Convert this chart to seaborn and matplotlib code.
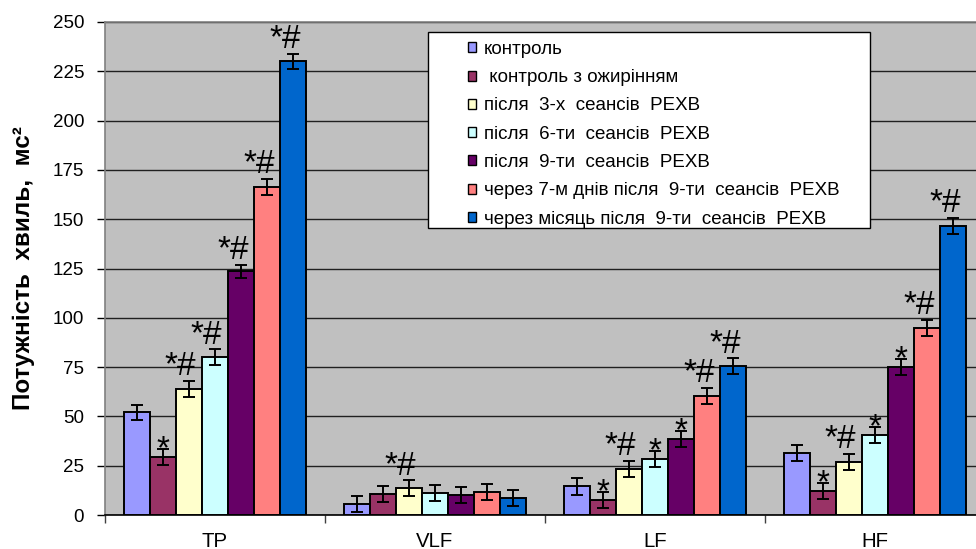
import matplotlib
matplotlib.use("Agg")
import matplotlib.pyplot as plt
import seaborn as sns
import pandas as pd
from matplotlib.patches import Patch, Rectangle

# ---- data ----
categories = ["TP", "VLF", "LF", "HF"]
groups = [
    "контроль",
    " контроль з ожирінням",
    "після  3-х  сеансів  РЕХВ",
    "після  6-ти  сеансів  РЕХВ",
    "після  9-ти  сеансів  РЕХВ",
    "через 7-м днів після  9-ти  сеансів  РЕХВ",
    "через місяць після  9-ти  сеансів  РЕХВ",
]
colors = ["#9999FF", "#993366", "#FFFFCC", "#CCFFFF", "#660066", "#FF8080", "#0066CC"]

# values per group, in category order TP, VLF, LF, HF
values = [
    [52.0, 5.5, 14.5, 31.5],
    [29.5, 10.5, 7.5, 12.0],
    [64.0, 13.5, 23.5, 27.0],
    [80.0, 11.0, 28.5, 40.5],
    [123.5, 10.0, 38.5, 75.0],
    [166.5, 11.5, 60.5, 95.0],
    [230.0, 8.5, 75.5, 146.5],
]
errors = [
    [4.0, 4.0, 4.2, 4.0],
    [4.0, 4.0, 4.0, 4.0],
    [4.0, 4.0, 4.0, 4.0],
    [4.0, 4.0, 4.0, 4.0],
    [3.5, 4.0, 4.0, 4.0],
    [4.0, 4.0, 4.0, 4.0],
    [4.0, 4.0, 4.0, 4.2],
]
marks = [
    ["", "", "", ""],
    ["*", "", "*", "*"],
    ["*#", "*#", "*#", "*#"],
    ["*#", "", "*", "*"],
    ["*#", "", "*", "*"],
    ["*#", "", "*#", "*#"],
    ["*#", "", "*#", "*#"],
]
y_ticks = [0, 25, 50, 75, 100, 125, 150, 175, 200, 225, 250]
y_label = "Потужність  хвиль,  мс²"

rows = []
for g, vals in zip(groups, values):
    for c, v in zip(categories, vals):
        rows.append({"band": c, "group": g, "value": v})
df = pd.DataFrame(rows)

# ---- style ----
sns.set_theme(style="ticks")
plt.rcParams["font.family"] = ["Liberation Sans", "DejaVu Sans"]
plt.rcParams["text.color"] = "black"
plt.rcParams["axes.labelcolor"] = "black"
plt.rcParams["xtick.color"] = "black"
plt.rcParams["ytick.color"] = "black"

W, H = 976, 549
fig = plt.figure(figsize=(W / 100, H / 100), dpi=100)
fig.patch.set_facecolor("white")
ax = fig.add_axes([105 / W, 34 / H, 880 / W, 493 / H])
ax.set_facecolor("#C0C0C0")

sns.barplot(
    data=df, x="band", y="value", hue="group",
    order=categories, hue_order=groups, palette=colors,
    saturation=1, width=0.83, edgecolor="black", linewidth=1.4,
    errorbar=None, legend=False, ax=ax, zorder=3,
)

bar_containers = list(ax.containers)

# error bars and significance marks
for gi, cont in enumerate(bar_containers):
    for ci, bar in enumerate(cont.patches):
        x = bar.get_x() + bar.get_width() / 2
        v = values[gi][ci]
        e = errors[gi][ci]
        ax.errorbar(x, v, yerr=e, fmt="none", ecolor="black",
                    elinewidth=1.4, capsize=4, capthick=1.4, zorder=4)
        m = marks[gi][ci]
        if m == "*#":
            ax.annotate(m, (x, v + e), xytext=(-6, 4), textcoords="offset points",
                        ha="center", va="baseline", fontsize=24, color="black",
                        zorder=5)
        elif m == "*":
            ax.annotate(m, (x, v + e), xytext=(0, -6.5), textcoords="offset points",
                        ha="center", va="baseline", fontsize=24, color="black",
                        zorder=5)

ax.set_ylim(0, 250)
ax.set_xlim(-0.5, 3.5)
ax.set_yticks(y_ticks)
ax.set_yticklabels([str(t) for t in y_ticks], fontsize=13.5)
ax.yaxis.grid(True, color="#202020", linewidth=1.0, zorder=0)
ax.set_axisbelow(True)
ax.tick_params(axis="y", length=6, width=1, color="black", pad=9)
ax.set_xticks(range(len(categories)))
ax.set_xticklabels(categories, fontsize=14.7)
ax.set_xticks([-0.5, 0.5, 1.5, 2.5, 3.5], minor=True)
ax.tick_params(axis="x", which="major", length=0, pad=12)
ax.tick_params(axis="x", which="minor", length=6, width=1, color="#404040")
ax.set_xlabel("")
ax.set_ylabel(y_label, fontsize=17.5, fontweight="bold")
ax.yaxis.set_label_coords(-70 / 880, 0.5)

for side in ["left", "top", "right"]:
    ax.spines[side].set_color("#808080")
    ax.spines[side].set_linewidth(1.2)
ax.spines["bottom"].set_color("black")
ax.spines["bottom"].set_linewidth(1.2)

# legend box
rect = Rectangle((428 / W, 1 - 228 / H), 442 / W, 196 / H, transform=fig.transFigure,
                 facecolor="white", edgecolor="black", linewidth=1.0, zorder=6)
fig.patches.append(rect)
handles = [Patch(facecolor=c, edgecolor="black", linewidth=1.0) for c in colors]
leg = fig.legend(handles, groups, loc="upper left", bbox_to_anchor=(468 / W, 1 - 41 / H),
                 frameon=False, fontsize=13.5, handlelength=0.45, handleheight=0.45,
                 handletextpad=0.4, labelspacing=0.6, borderpad=0, borderaxespad=0)
leg.set_zorder(7)

fig.savefig("out.png", dpi=100)
